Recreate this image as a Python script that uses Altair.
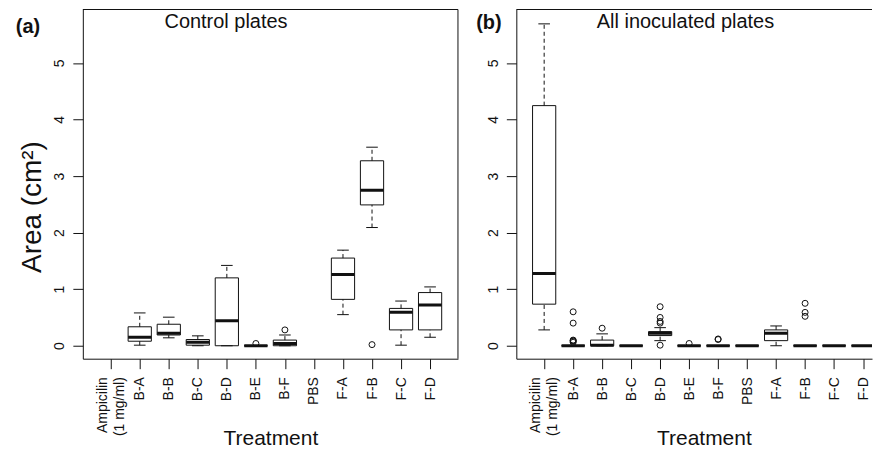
import json
import pandas as pd
import altair as alt

nan = float("nan")

# ---- categories / tick labels ----
tick_labels = [["Ampicilin", "(1 mg/ml)"], "B-A", "B-B", "B-C", "B-D", "B-E", "B-F",
               "PBS", "F-A", "F-B", "F-C", "F-D"]
positions = list(range(1, 13))
y_ticks = [0, 1, 2, 3, 4, 5]

# ---- (a) Control plates ----
ctrl_lower  = [nan, 0.01, 0.14, 0.00, 0.00, 0.00, 0.00, nan, 0.55, 2.09, 0.01, 0.15]
ctrl_q1     = [nan, 0.08, 0.19, 0.01, 0.00, 0.00, 0.00, nan, 0.82, 2.49, 0.28, 0.28]
ctrl_median = [nan, 0.15, 0.22, 0.06, 0.44, 0.00, 0.04, nan, 1.26, 2.75, 0.59, 0.72]
ctrl_q3     = [nan, 0.335, 0.38, 0.11, 1.20, 0.00, 0.10, nan, 1.55, 3.27, 0.66, 0.94]
ctrl_upper  = [nan, 0.58, 0.505, 0.175, 1.42, 0.00, 0.19, nan, 1.69, 3.51, 0.79, 1.04]
ctrl_out_pos = [6, 7, 10]
ctrl_out_val = [0.04, 0.28, 0.02]

# ---- (b) All inoculated plates ----
inoc_lower  = [0.28, 0.00, 0.00, 0.00, 0.09, 0.00, 0.00, 0.00, 0.00, 0.00, 0.00, 0.00]
inoc_q1     = [0.735, 0.00, 0.00, 0.00, 0.18, 0.00, 0.00, 0.00, 0.09, 0.00, 0.00, 0.00]
inoc_median = [1.275, 0.00, 0.01, 0.00, 0.22, 0.00, 0.00, 0.00, 0.22, 0.00, 0.00, 0.00]
inoc_q3     = [4.245, 0.00, 0.10, 0.00, 0.25, 0.00, 0.00, 0.00, 0.28, 0.00, 0.00, 0.00]
inoc_upper  = [5.69, 0.00, 0.21, 0.00, 0.32, 0.00, 0.00, 0.00, 0.35, 0.00, 0.00, 0.00]
inoc_out_pos = [2, 2, 2, 2, 2, 2, 3, 5, 5, 5, 5, 5, 6, 7, 7, 10, 10, 10]
inoc_out_val = [0.60, 0.40, 0.10, 0.09, 0.08, 0.06, 0.31, 0.69, 0.50, 0.43, 0.40, 0.01,
                0.04, 0.11, 0.12, 0.75, 0.59, 0.52]

Y_DOMAIN = [-0.229, 5.944]
H = 350
INK = "#111111"

label_expr = json.dumps(tick_labels) + "[datum.value - 1]"


def panel(lower, q1, med, q3, upper, out_pos, out_val, x_domain, width,
          title_text, title_cx, letter, letter_x, letter_y, right_border, y_title):
    box_df = pd.DataFrame({"pos": positions, "lower": lower, "q1": q1,
                           "median": med, "q3": q3, "upper": upper}).dropna()
    out_df = pd.DataFrame({"pos": out_pos, "val": out_val})

    xs = alt.Scale(domain=x_domain, nice=False, zero=False)
    ys = alt.Scale(domain=Y_DOMAIN, nice=False, zero=False)
    x_axis = alt.Axis(values=positions, labelExpr=label_expr, labelAngle=270,
                      labelAlign="right", labelBaseline="middle", labelFontSize=14,
                      labelPadding=8, labelLineHeight=17, labelOverlap=False,
                      labelOffset={"condition": {"test": "datum.value == 1", "value": -8.5},
                                   "value": 0},
                      labelFlush=False, tickSize=10, grid=False, domain=True,
                      title="Treatment", titleFontSize=21, titleFontWeight="normal",
                      titleX=188, titleY=85.5, titleBaseline="alphabetic",
                      titleAlign="center")
    y_kw = dict(values=y_ticks, labelAngle=270, labelAlign="center",
                labelBaseline="alphabetic", labelFontSize=14, labelPadding=9,
                labelOverlap=False, labelFlush=False, tickSize=10, grid=False,
                domain=True)
    if y_title:
        y_axis = alt.Axis(title="Area (cm²)", titleFontSize=28, titleFontWeight="normal",
                          titleAngle=270, titleBaseline="alphabetic", titleAlign="center",
                          titleX=-42, titleY=197.5, **y_kw)
    else:
        y_axis = alt.Axis(title=None, **y_kw)

    base = alt.Chart(box_df).transform_calculate(
        xl="datum.pos - 0.4", xr="datum.pos + 0.4",
        cl="datum.pos - 0.2", cr="datum.pos + 0.2")

    X = lambda f: alt.X(f + ":Q", scale=xs, axis=x_axis)
    Y = lambda f: alt.Y(f + ":Q", scale=ys, axis=y_axis)

    up_whisk = base.mark_rule(color=INK, strokeDash=[4, 3], strokeWidth=1, clip=True).encode(
        x=X("pos"), y=Y("q3"), y2="upper:Q")
    lo_whisk = base.mark_rule(color=INK, strokeDash=[4, 3], strokeWidth=1, clip=True).encode(
        x=X("pos"), y=Y("lower"), y2="q1:Q")
    up_cap = base.mark_rule(color=INK, strokeWidth=1, clip=True).encode(
        x=X("cl"), x2="cr:Q", y=Y("upper"))
    lo_cap = base.mark_rule(color=INK, strokeWidth=1, clip=True).encode(
        x=X("cl"), x2="cr:Q", y=Y("lower"))
    box = base.mark_rect(fill="white", stroke=INK, strokeWidth=1, clip=True).encode(
        x=X("xl"), x2="xr:Q", y=Y("q1"), y2="q3:Q")
    median = base.mark_rule(color=INK, strokeWidth=3, clip=True).encode(
        x=X("xl"), x2="xr:Q", y=Y("median"))
    outliers = alt.Chart(out_df).mark_point(shape="circle", filled=False, size=36,
                                            strokeWidth=1, color=INK, opacity=1,
                                            clip=True).encode(
        x=X("pos"), y=Y("val"))

    one = pd.DataFrame({"k": [0]})
    top_line = alt.Chart(one).mark_rule(color=INK, strokeWidth=1).encode(
        x=alt.value(0), x2=alt.value(width), y=alt.value(0))
    title = alt.Chart(one).mark_text(text=title_text, fontSize=20, align="center",
                                     baseline="alphabetic", color=INK).encode(
        x=alt.value(title_cx), y=alt.value(18.7))
    letter_mark = alt.Chart(one).mark_text(text=letter, fontSize=20, fontWeight="bold",
                                           align="center", baseline="alphabetic",
                                           color=INK).encode(
        x=alt.value(letter_x), y=alt.value(letter_y))

    layers = [box, up_whisk, lo_whisk, up_cap, lo_cap, median, outliers,
              top_line, title, letter_mark]
    if right_border:
        layers.append(alt.Chart(one).mark_rule(color=INK, strokeWidth=1).encode(
            x=alt.value(width), y=alt.value(0), y2=alt.value(H)))
    return alt.layer(*layers).properties(width=width, height=H)


RIGHT_W = 356.5
left = panel(ctrl_lower, ctrl_q1, ctrl_median, ctrl_q3, ctrl_upper,
             ctrl_out_pos, ctrl_out_val, [0.04, 12.96], 376,
             "Control plates", 143.5, "(a)", -55, 24, True, True)
right = panel(inoc_lower, inoc_q1, inoc_median, inoc_q3, inoc_upper,
              inoc_out_pos, inoc_out_val, [0.04, 0.04 + RIGHT_W / 29.06], RIGHT_W,
              "All inoculated plates", 169.5, "(b)", -27.5, 19.8, False, False)

chart = alt.hconcat(left, right, spacing=58.5, bounds="flush").properties(
    padding={"left": 7, "top": 0, "right": 0, "bottom": 0}
).configure(font="Liberation Sans").configure_view(stroke=None).configure_axis(
    labelColor=INK, tickColor=INK, domainColor=INK, titleColor=INK,
    labelFont="Liberation Sans", titleFont="Liberation Sans", tickWidth=1, domainWidth=1)

chart.save("out.html", embed_options={"renderer": "svg", "actions": False})
